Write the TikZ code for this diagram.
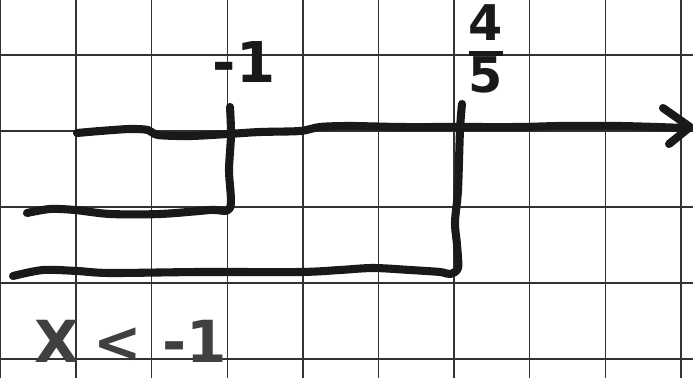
\documentclass[tikz,border=0pt]{standalone}
\usepackage{fontspec}
\setmainfont{DejaVu Sans}
\begin{document}
\begin{tikzpicture}[x=0.02cm,y=-0.02cm,
  gridline/.style={draw=black!80,line width=0.8pt},
  pen/.style={draw=black!90,line width=4.6pt,line cap=round,line join=round},
  hand/.style={font=\bfseries\fontsize{32}{36}\selectfont,text=black!90,inner sep=0pt},
  handlight/.style={font=\bfseries\fontsize{33}{36}\selectfont,text=black!75,inner sep=0pt}]
\useasboundingbox (0,0) rectangle (693,378);
\fill[white] (0,0) rectangle (693,378);
% grid
\foreach \i in {0,...,9} {\draw[gridline] ({0.5+75.6*\i},0) -- ({0.5+75.6*\i},378);}
\foreach \j in {0,...,4} {\draw[gridline] (0,{55+76*\j}) -- (693,{55+76*\j});}
% number line with arrow
\draw[pen] plot[smooth,tension=0.5] coordinates {(77,133) (100,131) (130,129) (148,130) (158,135) (190,136) (228,134) (260,132) (300,131) (320,127) (350,126) (400,127) (455,127) (520,127) (560,126) (620,126) (686,128)};
\coordinate (tip) at (690,127);
\draw[pen] (663,108) -- (tip) -- (669,144);
% bracket at -1
\draw[pen] plot[smooth,tension=0.5] coordinates {(230,107) (231,135) (229,170) (230,208) (210,210) (160,214) (110,214) (75,210) (50,209) (27,213)};
% bracket at 4/5
\draw[pen] plot[smooth,tension=0.5] coordinates {(462,104) (460,130) (458,190) (455,222) (457,245) (458,268) (450,274) (440,272) (410,270) (373,268) (340,270) (300,272) (200,272) (110,273) (77,271) (43,270) (13,276)};
% labels
\node[hand] (m1) at (244,62) {-1};
\node[hand,font=\bfseries\fontsize{28}{30}\selectfont] (f45) at (486,56) {\setlength\arrayrulewidth{2.8pt}\begin{tabular}{@{}c@{}}4\\[-3pt]\hline\\[-30pt] 5\end{tabular}};
\node[handlight,anchor=base west] (ineq) at (34,362) {X\hspace{0.25em}<\hspace{0.35em}-1};
\end{tikzpicture}
\end{document}
